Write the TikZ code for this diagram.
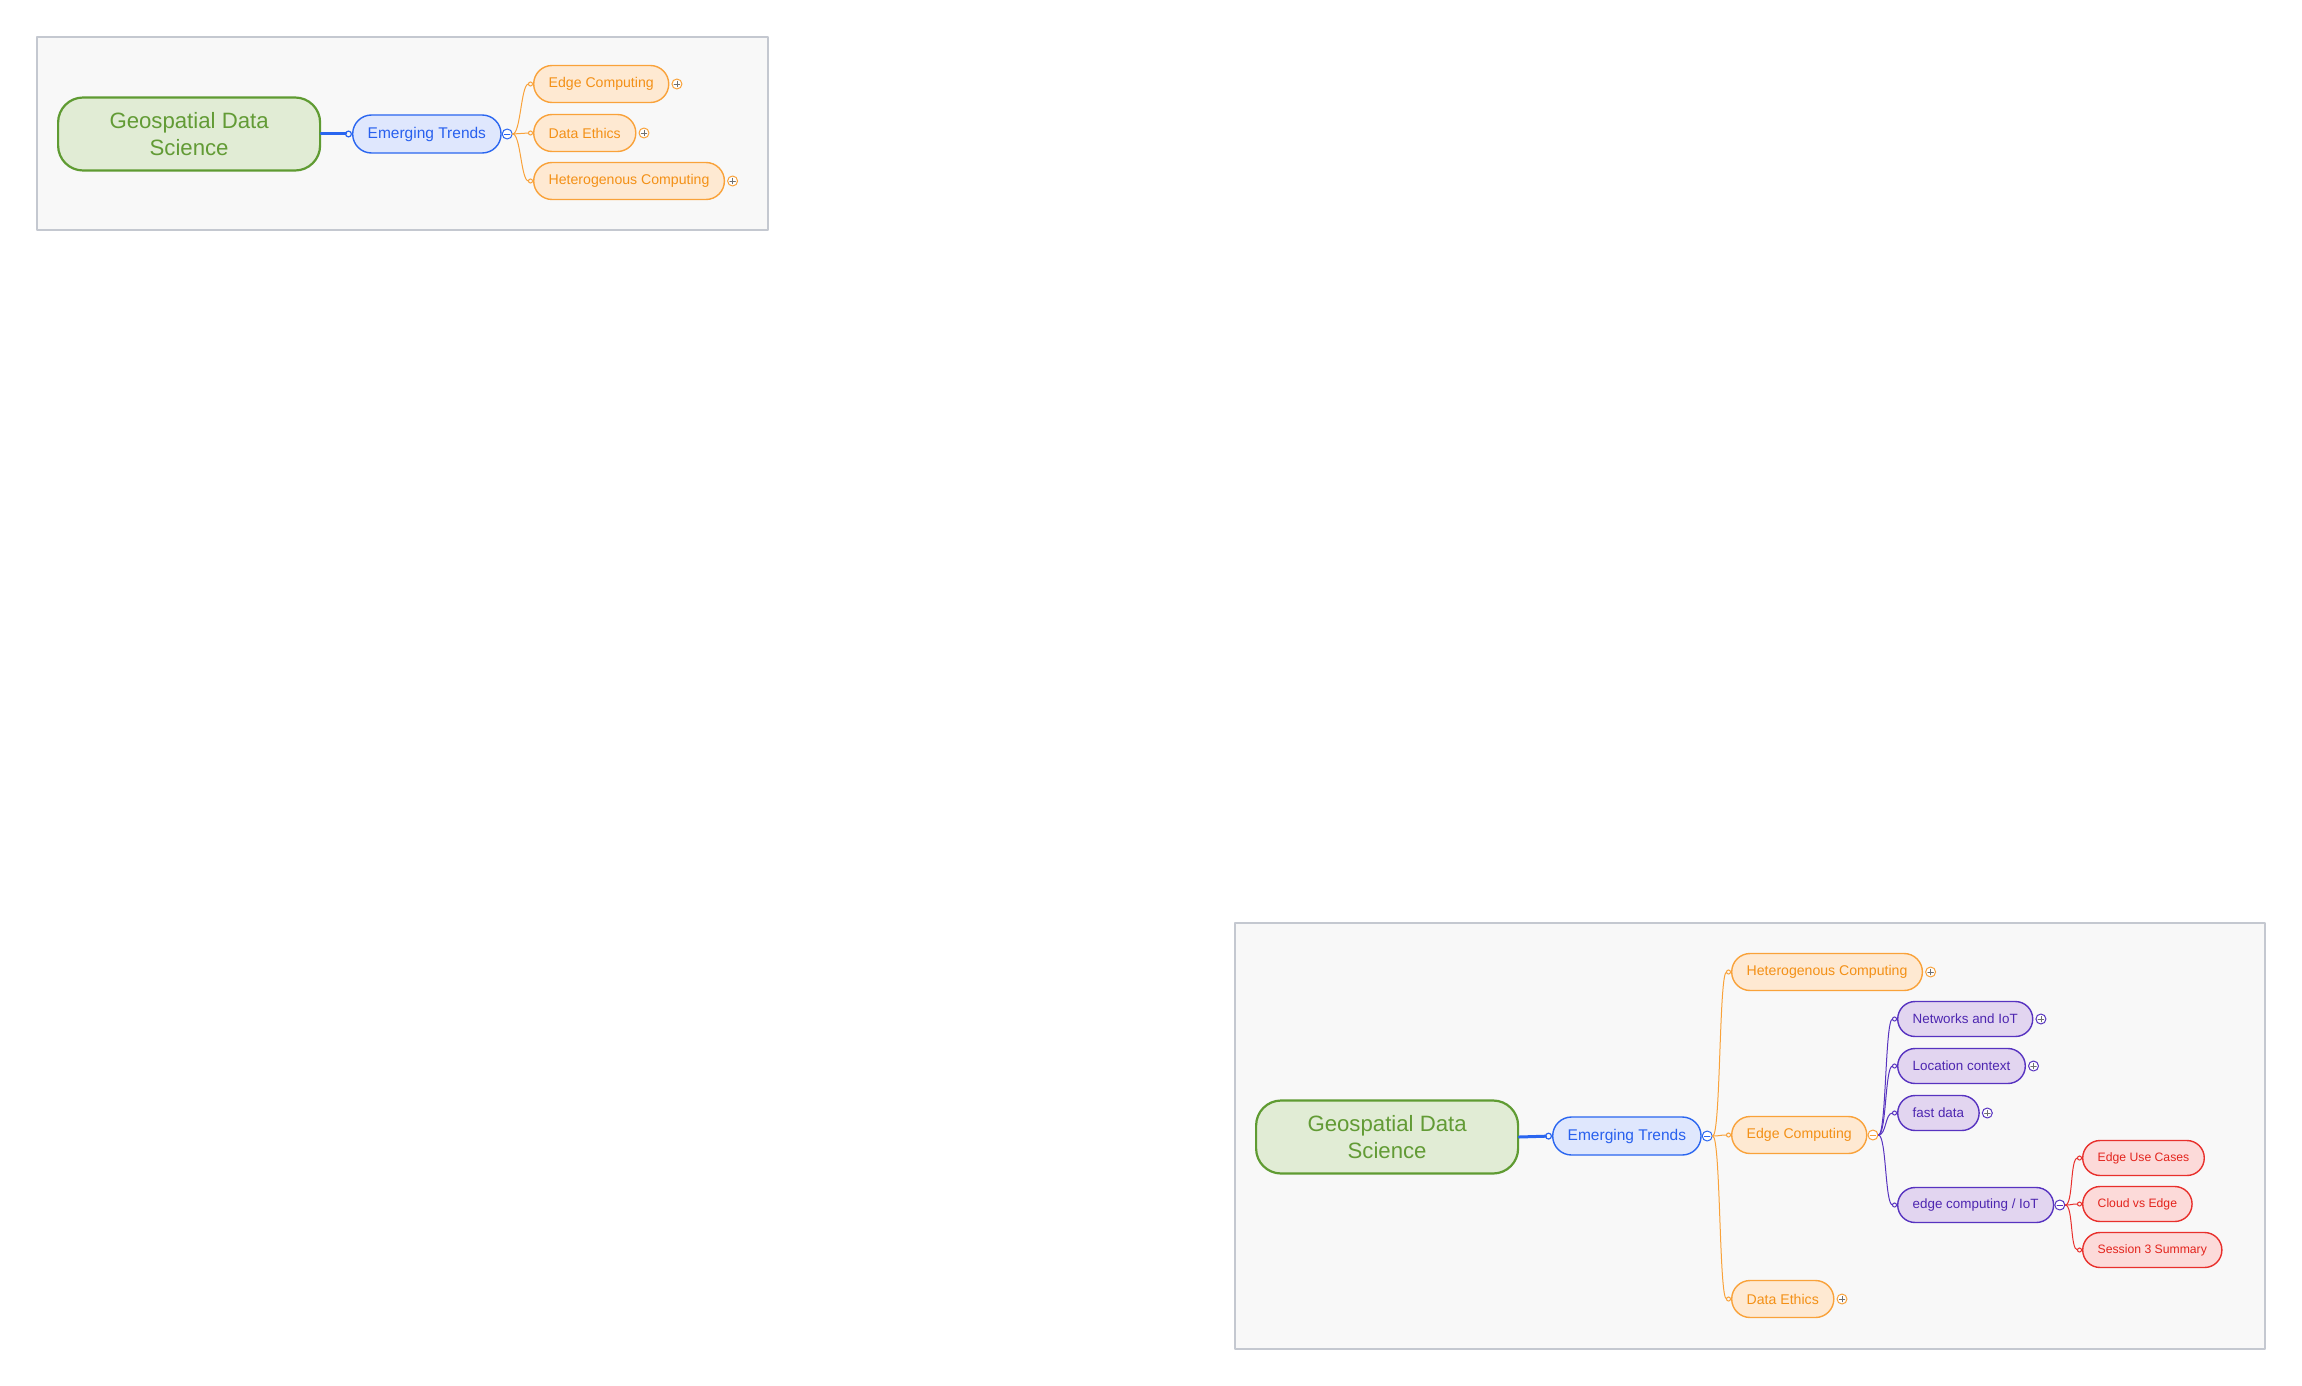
\documentclass[tikz,border=0pt]{standalone}
\usepackage{fontspec}
\setmainfont{Liberation Sans}
\usetikzlibrary{arrows.meta}

\definecolor{rootline}{HTML}{5F9B32}
\definecolor{rootfill}{HTML}{E1ECD5}
\definecolor{roottext}{HTML}{629B35}
\definecolor{trendline}{HTML}{2A66F0}
\definecolor{trendfill}{HTML}{DFE7FD}
\definecolor{trendtext}{HTML}{2860EE}
\definecolor{subline}{HTML}{F9A23A}
\definecolor{subfill}{HTML}{FEE9D2}
\definecolor{subtext}{HTML}{F39016}
\definecolor{iotline}{HTML}{5733C0}
\definecolor{iotfill}{HTML}{E2D5F0}
\definecolor{iottext}{HTML}{4D26B0}
\definecolor{leafline}{HTML}{E8302C}
\definecolor{leaffill}{HTML}{FCDAD9}
\definecolor{leaftext}{HTML}{E3241D}
\definecolor{panelfill}{HTML}{F8F8F8}
\definecolor{panelline}{HTML}{C4C8D0}
\definecolor{togmark}{HTML}{707070}

\tikzset{
  panel/.style={draw=panelline,fill=panelfill,line width=0.6pt},
  topic/.style={rectangle,draw,line width=0.7pt,inner xsep=7.5pt,inner ysep=0pt,anchor=west},
  rootnode/.style={topic,rounded corners=12.5pt,draw=rootline,fill=rootfill,text=roottext,
    line width=1.1pt,minimum width=131pt,minimum height=36.5pt,align=center,
    font=\fontsize{11.1}{13.2}\selectfont},
  trend/.style={topic,rounded corners=9.4pt,draw=trendline,fill=trendfill,text=trendtext,
    minimum height=19pt,font=\fontsize{7.75}{9}\selectfont},
  sub/.style={topic,rounded corners=9.2pt,draw=subline,fill=subfill,text=subtext,
    minimum height=18.5pt,font=\fontsize{7.05}{8}\selectfont},
  iot/.style={topic,rounded corners=8.7pt,draw=iotline,fill=iotfill,text=iottext,
    minimum height=17.5pt,font=\fontsize{6.7}{8}\selectfont},
  leaf/.style={topic,rounded corners=8.7pt,draw=leafline,fill=leaffill,text=leaftext,
    minimum height=17.5pt,font=\fontsize{6.1}{7}\selectfont},
  tog/.style={circle,fill=white,line width=0.5pt,minimum size=5pt,inner sep=0pt,anchor=west},
  plustog/.style={tog,draw=#1,path picture={
    \draw[togmark,line width=0.4pt]
      ([xshift=-1.4pt]path picture bounding box.center)--([xshift=1.4pt]path picture bounding box.center)
      ([yshift=-1.4pt]path picture bounding box.center)--([yshift=1.4pt]path picture bounding box.center);}},
  minustog/.style={tog,draw=#1,path picture={
    \draw[#1,line width=0.4pt]
      ([xshift=-1.4pt]path picture bounding box.center)--([xshift=1.4pt]path picture bounding box.center);}},
  rootlink/.style={draw=trendline,line width=1.5pt,
    -{Circle[open,length=3.5pt,width=3.5pt,line width=0.6pt]}},
  link/.style={draw=#1,line width=0.5pt,-{Circle[open,length=2.5pt,width=2.5pt]}},
}

\begin{document}
\begin{tikzpicture}[line cap=round,line join=round,x=0.5pt,y=-0.5pt]
\useasboundingbox [fill=white] (0,0) rectangle (2302,1386);

% small map
\draw[panel] (37,37) rectangle (768,230);
\node[rootnode] (a-root) at (57,134) {Geospatial Data\\Science};
\node[trend] (a-trends) at (352,134) {Emerging Trends};
\node[minustog=trendline] (a-trends-tog) at (a-trends.east) {};
\node[sub] (a-edge) at (533,84) {Edge Computing};
\node[sub] (a-ethics) at (533,133) {Data Ethics};
\node[sub] (a-hetero) at (533,181) {Heterogenous Computing};
\node[plustog=subline] (a-edge-tog) at ([xshift=1pt]a-edge.east) {};
\node[plustog=subline] (a-ethics-tog) at ([xshift=1pt]a-ethics.east) {};
\node[plustog=subline] (a-hetero-tog) at ([xshift=1pt]a-hetero.east) {};
\draw[rootlink] (a-root.east) -- (a-trends.west);
\draw[link=subline] (a-trends-tog.east) .. controls +(8,0) and +(-12,0) .. (a-edge.west);
\draw[link=subline] (a-trends-tog.east) .. controls +(8,0) and +(-12,0) .. (a-ethics.west);
\draw[link=subline] (a-trends-tog.east) .. controls +(8,0) and +(-12,0) .. (a-hetero.west);

% large map
\draw[panel] (1235,923) rectangle (2265,1349);
\node[rootnode] (b-root) at (1255,1137) {Geospatial Data\\Science};
\node[trend] (b-trends) at (1552,1136) {Emerging Trends};
\node[minustog=trendline] (b-trends-tog) at (b-trends.east) {};
\node[sub] (b-hetero) at (1731,972) {Heterogenous Computing};
\node[sub] (b-edge) at (1731,1135) {Edge Computing};
\node[sub] (b-ethics) at (1731,1299) {Data Ethics};
\node[plustog=subline] (b-hetero-tog) at ([xshift=1pt]b-hetero.east) {};
\node[minustog=subline] (b-edge-tog) at (b-edge.east) {};
\node[plustog=subline] (b-ethics-tog) at ([xshift=1pt]b-ethics.east) {};
\node[iot] (b-net) at (1897,1019) {Networks and IoT};
\node[iot] (b-loc) at (1897,1066) {Location context};
\node[iot] (b-fast) at (1897,1113) {fast data};
\node[iot] (b-iot) at (1897,1205) {edge computing / IoT};
\node[plustog=iotline] (b-net-tog) at ([xshift=1pt]b-net.east) {};
\node[plustog=iotline] (b-loc-tog) at ([xshift=1pt]b-loc.east) {};
\node[plustog=iotline] (b-fast-tog) at ([xshift=1pt]b-fast.east) {};
\node[minustog=iotline] (b-iot-tog) at (b-iot.east) {};
\node[leaf] (b-cases) at (2082,1158) {Edge Use Cases};
\node[leaf] (b-cloud) at (2082,1204) {Cloud vs Edge};
\node[leaf] (b-summary) at (2082,1250) {Session 3 Summary};
\draw[rootlink] (b-root.east) -- (b-trends.west);
\draw[link=subline] (b-trends-tog.east) .. controls +(8,0) and +(-12,0) .. (b-hetero.west);
\draw[link=subline] (b-trends-tog.east) .. controls +(8,0) and +(-12,0) .. (b-edge.west);
\draw[link=subline] (b-trends-tog.east) .. controls +(8,0) and +(-12,0) .. (b-ethics.west);
\draw[link=iotline] (b-edge-tog.east) .. controls +(8,0) and +(-12,0) .. (b-net.west);
\draw[link=iotline] (b-edge-tog.east) .. controls +(8,0) and +(-12,0) .. (b-loc.west);
\draw[link=iotline] (b-edge-tog.east) .. controls +(8,0) and +(-12,0) .. (b-fast.west);
\draw[link=iotline] (b-edge-tog.east) .. controls +(8,0) and +(-12,0) .. (b-iot.west);
\draw[link=leafline] (b-iot-tog.east) .. controls +(8,0) and +(-12,0) .. (b-cases.west);
\draw[link=leafline] (b-iot-tog.east) .. controls +(8,0) and +(-12,0) .. (b-cloud.west);
\draw[link=leafline] (b-iot-tog.east) .. controls +(8,0) and +(-12,0) .. (b-summary.west);
\end{tikzpicture}
\end{document}
